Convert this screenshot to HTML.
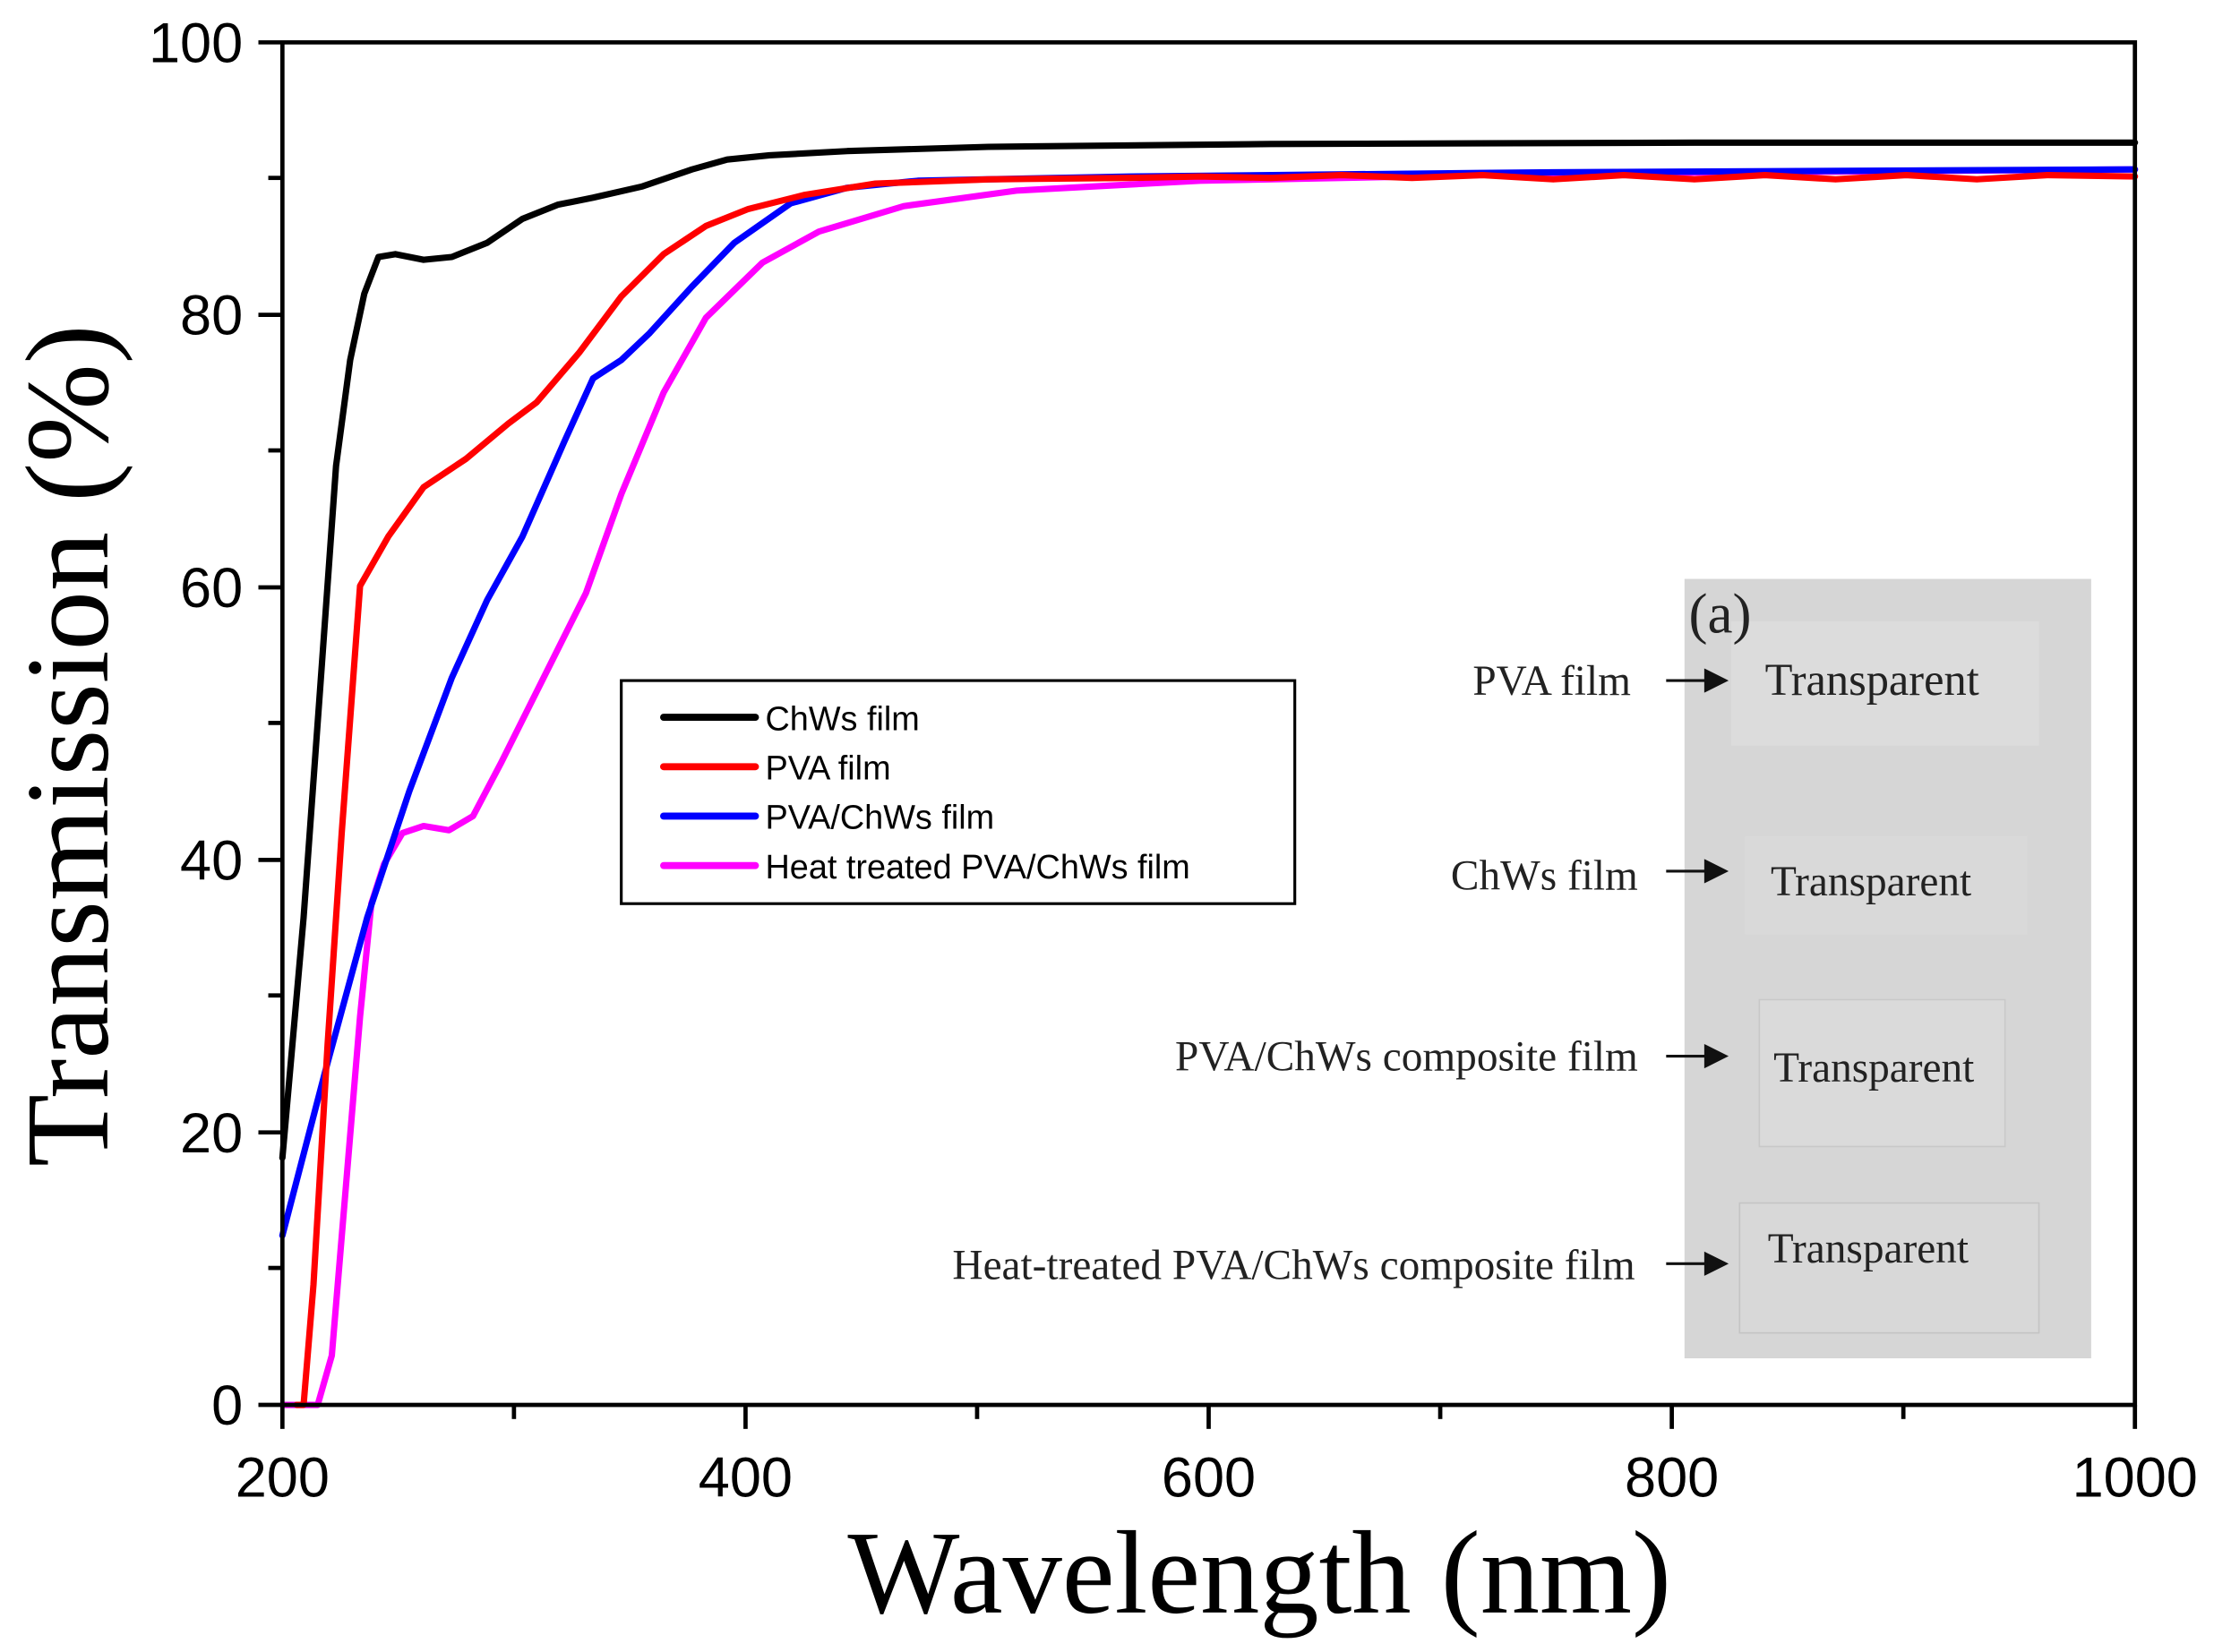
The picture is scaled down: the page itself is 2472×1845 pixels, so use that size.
<!DOCTYPE html>
<html><head><meta charset="utf-8"><style>html,body{margin:0;padding:0;background:#fff}svg{display:block}</style></head>
<body>
<svg width="2472" height="1845" viewBox="0 0 1568 1170" preserveAspectRatio="none" xmlns="http://www.w3.org/2000/svg">
<rect width="1568" height="1170" fill="#fff"/>
<!-- inset photo -->
<rect x="1193" y="410" width="288" height="552" fill="#d6d6d6"/>
<rect x="1226" y="440" width="218" height="88" fill="#dcdcdc"/>
<rect x="1236" y="592" width="200" height="70" fill="#d9d9d9"/>
<rect x="1246" y="708" width="174" height="104" fill="#dadada" stroke="#c8c8c8" stroke-width="1"/>
<rect x="1232" y="852" width="212" height="92" fill="#d8d8d8" stroke="#c4c4c4" stroke-width="1"/>
<g font-family="Liberation Serif, serif" fill="#222">
<text x="1196" y="448" font-size="40">(a)</text>
<text x="1250" y="492" font-size="32">Transparent</text>
<text x="1254" y="634" font-size="30">Transparent</text>
<text x="1256" y="766" font-size="30">Transparent</text>
<text x="1252" y="894" font-size="30">Transparent</text>
<text x="1155" y="492" font-size="30" text-anchor="end">PVA film</text>
<text x="1160" y="630" font-size="30" text-anchor="end">ChWs film</text>
<text x="1160" y="758" font-size="30" text-anchor="end">PVA/ChWs composite film</text>
<text x="1158" y="906" font-size="30" text-anchor="end">Heat-treated PVA/ChWs composite film</text>
</g>
<g stroke="#111" stroke-width="2" fill="#111">
<line x1="1180" y1="482" x2="1212" y2="482"/><path d="M1222 482 L1208 475 L1208 489Z"/>
<line x1="1180" y1="617" x2="1212" y2="617"/><path d="M1222 617 L1208 610 L1208 624Z"/>
<line x1="1180" y1="748" x2="1212" y2="748"/><path d="M1222 748 L1208 741 L1208 755Z"/>
<line x1="1180" y1="895" x2="1212" y2="895"/><path d="M1222 895 L1208 888 L1208 902Z"/>
</g>
<!-- curves -->
<g fill="none" stroke-width="4.5" stroke-linejoin="round" stroke-linecap="round">
<polyline stroke="#ff00ff" points="200,995 225,995 235,960 245,840 255,720 263,640 272,612 285,590 300,585 318,588 335,578 355,540 375,500 395,460 415,420 440,350 470,278 500,225 540,186 580,164 640,146 720,135 850,128 1100,123 1512,120"/>
<polyline stroke="#0000ff" points="200,875 230,760 260,650 290,560 320,480 345,425 370,380 400,312 420,268 440,255 460,236 490,203 520,172 560,144 600,133 650,128 800,125 1100,122 1512,120"/>
<polyline stroke="#ff0000" points="210,995 215,995 222,910 232,740 242,590 255,415 275,380 300,345 330,325 360,300 380,285 410,250 440,210 470,180 500,160 530,148 570,138 620,130 700,127 800,126 850,125 900,126 950,124 1000,126 1050,124 1100,127 1150,124 1200,127 1250,124 1300,127 1350,124 1400,127 1450,124 1512,125"/>
<polyline stroke="#000000" points="200,820 215,650 228,470 238,330 248,255 258,208 268,182 280,180 300,184 320,182 345,172 370,155 395,145 420,140 455,132 490,120 515,113 545,110 600,107 700,104 900,102 1200,101 1512,101"/>
</g>
<!-- axes -->
<rect x="200" y="30" width="1312" height="965" fill="none" stroke="#000" stroke-width="3"/>
<g stroke="#000" stroke-width="3">
<line x1="183" y1="30" x2="200" y2="30"/><line x1="183" y1="223" x2="200" y2="223"/><line x1="183" y1="416" x2="200" y2="416"/><line x1="183" y1="609" x2="200" y2="609"/><line x1="183" y1="802" x2="200" y2="802"/><line x1="183" y1="995" x2="200" y2="995"/>
<line x1="190" y1="126" x2="200" y2="126"/><line x1="190" y1="319" x2="200" y2="319"/><line x1="190" y1="512" x2="200" y2="512"/><line x1="190" y1="705" x2="200" y2="705"/><line x1="190" y1="898" x2="200" y2="898"/>
<line x1="200" y1="995" x2="200" y2="1012"/><line x1="528" y1="995" x2="528" y2="1012"/><line x1="856" y1="995" x2="856" y2="1012"/><line x1="1184" y1="995" x2="1184" y2="1012"/><line x1="1512" y1="995" x2="1512" y2="1012"/>
<line x1="364" y1="995" x2="364" y2="1005"/><line x1="692" y1="995" x2="692" y2="1005"/><line x1="1020" y1="995" x2="1020" y2="1005"/><line x1="1348" y1="995" x2="1348" y2="1005"/>
</g>
<g font-family="Liberation Sans, sans-serif" font-size="40" fill="#000" text-anchor="end">
<text x="172" y="44">100</text><text x="172" y="237">80</text><text x="172" y="430">60</text><text x="172" y="623">40</text><text x="172" y="816">20</text><text x="172" y="1009">0</text>
</g>
<g font-family="Liberation Sans, sans-serif" font-size="40" fill="#000" text-anchor="middle">
<text x="200" y="1060">200</text><text x="528" y="1060">400</text><text x="856" y="1060">600</text><text x="1184" y="1060">800</text><text x="1512" y="1060">1000</text>
</g>
<text x="892" y="1142" font-family="Liberation Serif, serif" font-size="84" text-anchor="middle">Wavelength (nm)</text>
<text transform="translate(76,528) rotate(-90)" font-family="Liberation Serif, serif" font-size="84" text-anchor="middle">Transmission (%)</text>
<!-- legend -->
<rect x="440" y="482" width="477" height="158" fill="#fff" stroke="#000" stroke-width="2"/>
<g stroke-width="5" stroke-linecap="round">
<line x1="470" y1="508" x2="535" y2="508" stroke="#000"/>
<line x1="470" y1="543" x2="535" y2="543" stroke="#ff0000"/>
<line x1="470" y1="578" x2="535" y2="578" stroke="#0000ff"/>
<line x1="470" y1="613" x2="535" y2="613" stroke="#ff00ff"/>
</g>
<g font-family="Liberation Sans, sans-serif" font-size="24" fill="#000">
<text x="542" y="517">ChWs film</text>
<text x="542" y="552">PVA  film</text>
<text x="542" y="587">PVA/ChWs film</text>
<text x="542" y="622">Heat treated PVA/ChWs film</text>
</g>
</svg>
</body></html>
